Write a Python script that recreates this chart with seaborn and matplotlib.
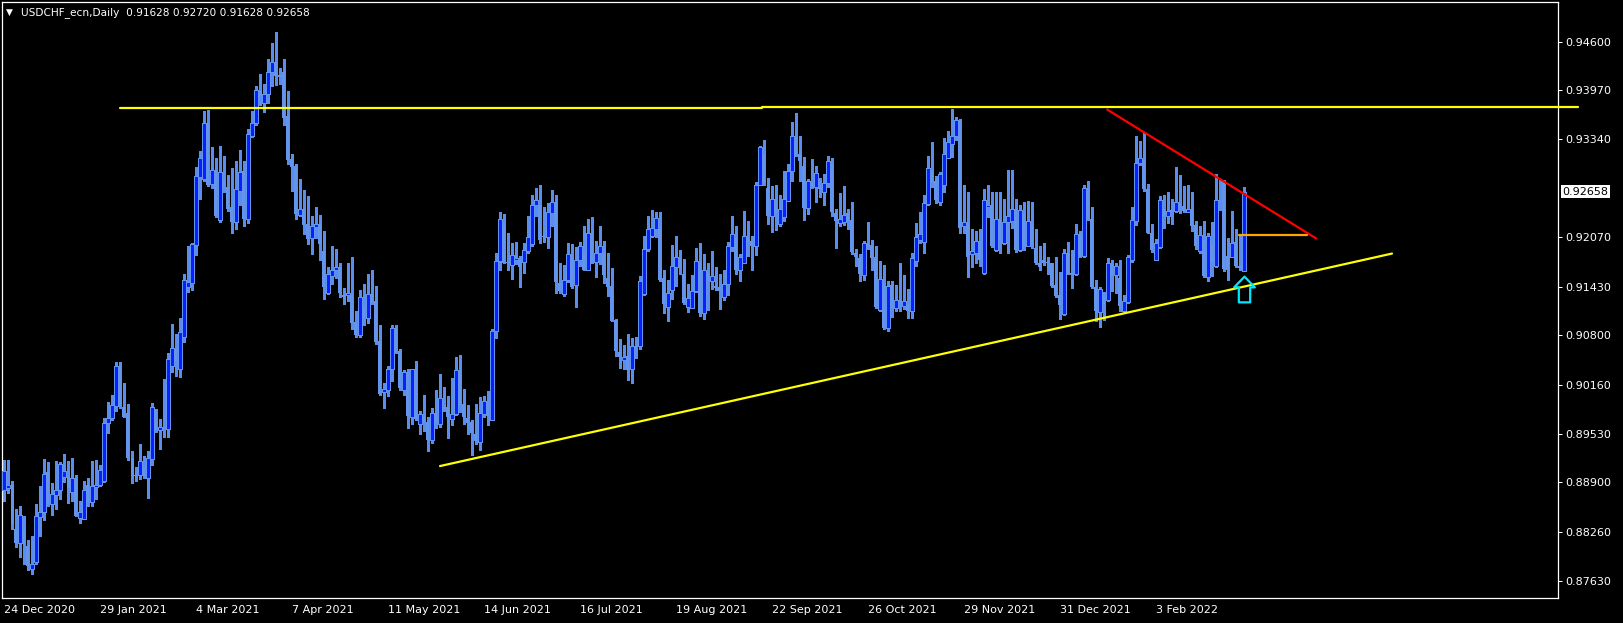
import numpy as np
import matplotlib
matplotlib.use("Agg")
import matplotlib.pyplot as plt
from matplotlib.path import Path
from matplotlib.transforms import offset_copy
import seaborn as sns

# Daily USDCHF bars, prices in 1/10000 (pips)
opens = [
    8880, 8882, 8887, 8829, 8811, 8828, 8807, 8778, 8787, 8845, 8851, 8903, 8862, 8874, 8880, 8897,
    8897, 8878, 8894, 8844, 8843, 8886, 8865, 8884, 8886, 8892, 8967, 8973, 8989, 9040, 8988, 8979,
    8922, 8900, 8900, 8908, 8895, 8920, 8983, 8957, 8960, 8959, 9040, 9063, 9037, 9078, 9142, 9148,
    9197, 9285, 9282, 9355, 9276, 9294, 9229, 9278, 9272, 9246, 9226, 9267, 9292, 9231, 9338, 9355,
    9396, 9381, 9392, 9421, 9433, 9415, 9420, 9364, 9308, 9299, 9236, 9243, 9224, 9206, 9220, 9224,
    9189, 9135, 9157, 9164, 9168, 9132, 9132, 9132, 9097, 9080, 9116, 9102, 9134, 9124, 9073, 9007,
    9010, 9036, 9090, 9060, 9010, 9033, 8975, 9036, 8966, 8974, 8968, 8945, 8979, 8965, 8987, 8987,
    8972, 8978, 9034, 8991, 8973, 8968, 8952, 8942, 8978, 8995, 8971, 9086, 9176, 9221, 9175, 9171,
    9178, 9178, 9175, 9189, 9198, 9249, 9248, 9208, 9207, 9238, 9253, 9148, 9133, 9151, 9184, 9145,
    9178, 9185, 9165, 9212, 9175, 9186, 9186, 9154, 9144, 9100, 9058, 9048, 9053, 9036, 9066, 9066,
    9134, 9192, 9209, 9218, 9218, 9154, 9117, 9139, 9169, 9180, 9159, 9117, 9116, 9137, 9174, 9109,
    9162, 9150, 9144, 9143, 9129, 9147, 9194, 9206, 9165, 9174, 9206, 9202, 9196, 9275, 9313, 9270,
    9235, 9257, 9224, 9233, 9254, 9292, 9337, 9315, 9299, 9245, 9277, 9272, 9270, 9265, 9277, 9302,
    9238, 9225, 9227, 9238, 9229, 9186, 9180, 9158, 9198, 9197, 9181, 9113, 9147, 9089, 9145, 9116,
    9126, 9118, 9121, 9112, 9176, 9203, 9201, 9250, 9291, 9280, 9253, 9275, 9310, 9327, 9338, 9357,
    9222, 9227, 9185, 9186, 9202, 9161, 9246, 9248, 9190, 9231, 9200, 9226, 9228, 9243, 9190, 9237,
    9196, 9225, 9193, 9174, 9178, 9175, 9173, 9145, 9132, 9107, 9187, 9159, 9159, 9211, 9183, 9271,
    9230, 9142, 9110, 9130, 9126, 9172, 9158, 9154, 9112, 9123, 9178, 9228, 9303, 9307, 9269, 9213,
    9177, 9194, 9243, 9235, 9242, 9241, 9251, 9247, 9240, 9242, 9223, 9189, 9203, 9155, 9197, 9170,
    9255, 9279, 9183, 9182, 9201, 9169, 9162.8,
]
highs = [
    8919, 8919, 8892, 8855, 8860, 8846, 8816, 8821, 8862, 8885, 8920, 8916, 8889, 8917, 8916, 8927,
    8917, 8921, 8900, 8866, 8892, 8896, 8917, 8919, 8912, 8973, 8994, 9003, 9045, 9045, 9019, 8991,
    8931, 8910, 8940, 8924, 8930, 8992, 8985, 8972, 9024, 9057, 9095, 9082, 9102, 9159, 9195, 9200,
    9298, 9318, 9370, 9372, 9323, 9310, 9325, 9312, 9287, 9296, 9305, 9320, 9305, 9347, 9370, 9402,
    9418, 9405, 9438, 9458, 9472, 9426, 9438, 9396, 9315, 9301, 9282, 9268, 9260, 9234, 9246, 9236,
    9215, 9169, 9196, 9192, 9173, 9141, 9173, 9181, 9112, 9139, 9147, 9160, 9164, 9144, 9093, 9019,
    9040, 9093, 9093, 9063, 9035, 9036, 9037, 9047, 8982, 9003, 8974, 8986, 9009, 9030, 9013, 9001,
    9025, 9052, 9055, 9011, 8990, 8971, 8991, 9000, 9002, 9008, 9088, 9187, 9239, 9237, 9212, 9199,
    9201, 9183, 9200, 9234, 9261, 9271, 9274, 9246, 9251, 9268, 9262, 9174, 9171, 9200, 9198, 9194,
    9201, 9221, 9231, 9233, 9202, 9221, 9202, 9186, 9167, 9101, 9075, 9067, 9082, 9077, 9078, 9157,
    9208, 9234, 9242, 9240, 9240, 9164, 9152, 9197, 9208, 9190, 9179, 9146, 9158, 9193, 9199, 9185,
    9173, 9189, 9169, 9159, 9164, 9201, 9234, 9222, 9185, 9241, 9228, 9208, 9278, 9325, 9333, 9284,
    9273, 9274, 9261, 9292, 9302, 9356, 9367, 9338, 9311, 9282, 9308, 9299, 9283, 9289, 9312, 9309,
    9244, 9264, 9273, 9244, 9252, 9192, 9185, 9202, 9227, 9203, 9195, 9176, 9171, 9150, 9150, 9145,
    9174, 9158, 9140, 9187, 9225, 9239, 9262, 9312, 9330, 9286, 9291, 9335, 9344, 9373, 9363, 9360,
    9274, 9266, 9217, 9215, 9218, 9269, 9275, 9265, 9265, 9266, 9256, 9294, 9294, 9256, 9248, 9252,
    9254, 9253, 9218, 9196, 9199, 9182, 9174, 9182, 9162, 9192, 9201, 9190, 9224, 9215, 9274, 9279,
    9246, 9152, 9143, 9136, 9180, 9178, 9174, 9177, 9132, 9184, 9246, 9338, 9331, 9342, 9276, 9224,
    9205, 9260, 9262, 9265, 9256, 9298, 9287, 9273, 9274, 9265, 9228, 9221, 9228, 9213, 9226, 9289,
    9281, 9281, 9206, 9241, 9218, 9210, 9272.0,
]
lows = [
    8866, 8876, 8829, 8806, 8794, 8785, 8776, 8771, 8785, 8821, 8841, 8860, 8848, 8855, 8869, 8891,
    8863, 8866, 8846, 8837, 8842, 8859, 8859, 8869, 8885, 8891, 8954, 8970, 8982, 8986, 8974, 8919,
    8889, 8892, 8894, 8895, 8870, 8913, 8955, 8933, 8948, 8948, 9033, 9028, 9026, 9071, 9136, 9139,
    9184, 9257, 9279, 9273, 9271, 9233, 9227, 9266, 9241, 9213, 9217, 9249, 9222, 9225, 9336, 9352,
    9378, 9369, 9380, 9403, 9404, 9405, 9352, 9302, 9267, 9230, 9235, 9211, 9198, 9185, 9206, 9177,
    9127, 9134, 9146, 9154, 9129, 9121, 9124, 9088, 9078, 9078, 9093, 9096, 9120, 9069, 9003, 8986,
    9001, 9021, 9057, 9010, 9003, 8960, 8966, 8971, 8953, 8956, 8930, 8941, 8960, 8962, 8982, 8947,
    8964, 8977, 8981, 8966, 8952, 8925, 8940, 8932, 8975, 8964, 8971, 9076, 9164, 9173, 9165, 9153,
    9172, 9142, 9161, 9187, 9196, 9235, 9200, 9201, 9193, 9222, 9135, 9135, 9131, 9149, 9141, 9117,
    9170, 9164, 9164, 9174, 9155, 9172, 9148, 9131, 9098, 9053, 9038, 9036, 9022, 9018, 9051, 9063,
    9132, 9189, 9207, 9207, 9150, 9109, 9099, 9127, 9144, 9159, 9121, 9110, 9115, 9136, 9105, 9101,
    9113, 9140, 9139, 9114, 9126, 9132, 9189, 9159, 9150, 9173, 9183, 9164, 9184, 9274, 9275, 9224,
    9214, 9216, 9222, 9228, 9254, 9279, 9312, 9279, 9229, 9237, 9270, 9252, 9259, 9249, 9272, 9235,
    9193, 9221, 9223, 9218, 9185, 9170, 9150, 9152, 9192, 9164, 9115, 9111, 9088, 9086, 9104, 9111,
    9111, 9114, 9102, 9103, 9170, 9200, 9187, 9249, 9272, 9251, 9248, 9266, 9309, 9311, 9333, 9212,
    9213, 9156, 9169, 9173, 9170, 9159, 9233, 9194, 9189, 9186, 9198, 9186, 9219, 9188, 9189, 9190,
    9195, 9193, 9172, 9165, 9171, 9159, 9143, 9130, 9101, 9106, 9159, 9141, 9158, 9182, 9182, 9229,
    9141, 9098, 9091, 9100, 9124, 9137, 9135, 9111, 9109, 9122, 9175, 9223, 9300, 9267, 9212, 9188,
    9177, 9193, 9219, 9225, 9224, 9239, 9238, 9239, 9239, 9215, 9192, 9187, 9156, 9150, 9157, 9168,
    9242, 9163, 9151, 9181, 9168, 9164, 9162.8,
]
closes = [
    8905, 8886, 8836, 8811, 8848, 8810, 8782, 8784, 8846, 8852, 8901, 8862, 8875, 8880, 8914, 8904,
    8882, 8895, 8847, 8851, 8880, 8864, 8885, 8886, 8906, 8967, 8973, 8990, 9041, 8989, 8975, 8921,
    8898, 8898, 8918, 8898, 8921, 8987, 8957, 8962, 8959, 9050, 9064, 9046, 9085, 9151, 9149, 9198,
    9286, 9309, 9355, 9275, 9294, 9235, 9291, 9273, 9244, 9226, 9269, 9291, 9231, 9340, 9355, 9397,
    9390, 9392, 9421, 9433, 9415, 9417, 9361, 9307, 9298, 9237, 9244, 9223, 9205, 9221, 9224, 9198,
    9143, 9159, 9164, 9168, 9135, 9130, 9135, 9096, 9081, 9130, 9103, 9134, 9123, 9072, 9004, 9011,
    9036, 9090, 9058, 9012, 9032, 8976, 9036, 8972, 8978, 8968, 8945, 8979, 8967, 8999, 8985, 8974,
    8978, 9035, 8990, 8975, 8967, 8954, 8943, 8979, 8995, 8976, 9086, 9176, 9231, 9174, 9173, 9184,
    9180, 9168, 9190, 9207, 9249, 9255, 9203, 9207, 9239, 9253, 9149, 9138, 9151, 9185, 9142, 9178,
    9196, 9165, 9213, 9175, 9187, 9196, 9158, 9143, 9099, 9060, 9052, 9052, 9035, 9066, 9065, 9150,
    9192, 9218, 9219, 9232, 9152, 9121, 9135, 9170, 9181, 9169, 9122, 9128, 9137, 9176, 9109, 9164,
    9150, 9157, 9141, 9138, 9147, 9196, 9211, 9165, 9181, 9209, 9201, 9196, 9275, 9323, 9277, 9235,
    9257, 9238, 9243, 9257, 9293, 9338, 9314, 9305, 9245, 9279, 9272, 9290, 9271, 9277, 9306, 9239,
    9228, 9231, 9236, 9228, 9188, 9181, 9159, 9199, 9196, 9180, 9117, 9153, 9090, 9144, 9116, 9126,
    9121, 9125, 9111, 9180, 9207, 9211, 9251, 9297, 9278, 9255, 9289, 9314, 9330, 9338, 9358, 9219,
    9226, 9182, 9189, 9202, 9177, 9255, 9249, 9195, 9231, 9205, 9226, 9234, 9243, 9190, 9242, 9195,
    9228, 9195, 9173, 9169, 9173, 9173, 9144, 9131, 9119, 9187, 9159, 9161, 9211, 9183, 9271, 9230,
    9142, 9111, 9140, 9121, 9174, 9158, 9170, 9118, 9124, 9181, 9229, 9303, 9309, 9269, 9213, 9190,
    9200, 9255, 9234, 9241, 9240, 9252, 9245, 9241, 9243, 9222, 9195, 9210, 9157, 9209, 9175, 9255,
    9253, 9166, 9165, 9200, 9170, 9170, 9265.8,
]

# bottom axis: bar index of each date label
date_bars = [0, 24, 48, 72, 96, 120, 144, 168, 192, 216, 240, 264, 288]
date_labels = ["24 Dec 2020", "29 Jan 2021", "4 Mar 2021", "7 Apr 2021", "11 May 2021",
               "14 Jun 2021", "16 Jul 2021", "19 Aug 2021", "22 Sep 2021", "26 Oct 2021",
               "29 Nov 2021", "31 Dec 2021", "3 Feb 2022"]
price_ticks = [0.94600, 0.93970, 0.93340, 0.92070, 0.91430, 0.90800,
               0.90160, 0.89530, 0.88900, 0.88260, 0.87630]

# hand drawn objects on the chart (bar index, price)
resist_a_x = [29, 189.4]
resist_a_y = [0.93736, 0.93736]
resist_b_x = [189.4, 393.5]
resist_b_y = [0.93749, 0.93749]
support_x = [109, 347]
support_y = [0.89110, 0.91858]
falling_x = [275.8, 328]
falling_y = [0.93720, 0.92055]
level_x = [308.8, 325.8]
level_y = [0.92098, 0.92098]

sns.set_theme(style="dark", rc={
    "axes.facecolor": "black", "figure.facecolor": "black",
    "axes.edgecolor": "white", "axes.grid": False,
    "xtick.color": "white", "ytick.color": "white", "text.color": "white",
})
plt.rcParams["font.family"] = ["DejaVu Sans"]

W, H = 1623, 623
fig = plt.figure(figsize=(W / 100, H / 100), dpi=100)
ax = fig.add_axes([2 / W, 25 / H, 1556 / W, 596 / H])

o = np.array(opens) / 1e4
h = np.array(highs) / 1e4
l = np.array(lows) / 1e4
c = np.array(closes) / 1e4
x = np.arange(len(o))
up = c >= o
body_lo = np.minimum(o, c)
body_h = np.maximum(np.abs(c - o), 0.00013)

ax.vlines(x, l, h, color="#5b8def", linewidth=0.75, zorder=2, antialiased=False)
ax.bar(x[~up], body_h[~up], bottom=body_lo[~up], width=0.75, color="#6495ed",
       linewidth=0, zorder=3, antialiased=False)
ax.bar(x[up], body_h[up], bottom=body_lo[up], width=0.8, color="#0a1eff",
       edgecolor="#6495ed", linewidth=0.5, zorder=3, antialiased=False)

for xs, ys, col in [(resist_a_x, resist_a_y, "#ffff00"), (support_x, support_y, "#ffff00"),
                    (falling_x, falling_y, "#ff0000"), (level_x, level_y, "#ffa500")]:
    sns.lineplot(x=xs, y=ys, ax=ax, color=col, linewidth=1.6, estimator=None,
                 sort=False, legend=False, zorder=4)
# this one runs on past the right edge of the plot
sns.lineplot(x=resist_b_x, y=resist_b_y, ax=ax, color="#ffff00", linewidth=1.6,
             estimator=None, sort=False, legend=False, zorder=4, clip_on=False)

# hollow up arrow under the last bar
arrow = Path([(0, 38.5), (31, 6.5), (17, 6.5), (17, -38.5), (-17, -38.5),
              (-17, 6.5), (-31, 6.5), (0, 38.5)],
             [Path.MOVETO] + [Path.LINETO] * 6 + [Path.CLOSEPOLY])
ax.plot([x[-1]], [l[-1]], marker=arrow, markersize=18.5, markerfacecolor="none",
        markeredgecolor="#00e5ff", markeredgewidth=1.6, linestyle="none", zorder=5,
        transform=offset_copy(ax.transData, fig=fig, y=-17.5, units="dots"))

ax.set_xlim(-0.5, 388.5)
ax.set_ylim(0.87404, 0.95111)
ax.set_xlabel("")
ax.set_ylabel("")
ax.yaxis.tick_right()
ax.set_yticks(price_ticks, [f"{v:.5f}" for v in price_ticks])
ax.set_xticks(date_bars, date_labels)
for lab in ax.get_xticklabels():
    lab.set_horizontalalignment("left")
ax.tick_params(axis="both", colors="white", length=3, width=0.72, labelsize=8,
               pad=2, direction="out")
for sp in ax.spines.values():
    sp.set_visible(True)
    sp.set_color("white")
    sp.set_linewidth(0.9)

# current price tag on the price scale
ax.annotate(f"{c[-1]:.5f}", xy=(1, c[-1]), xycoords=ax.get_yaxis_transform(),
            xytext=(3.2, 0), textcoords="offset points", ha="left", va="center",
            fontsize=8, color="black",
            bbox=dict(boxstyle="square,pad=0.15", fc="white", ec="none"))

fig.text(6 / W, 1 - 12.7 / H, "\u25bc", fontsize=6.5, color="white", va="center")
fig.text(21 / W, 1 - 12.7 / H,
         f"USDCHF_ecn,Daily  {o[-1]:.5f} {h[-1]:.5f} {l[-1]:.5f} {c[-1]:.5f}",
         fontsize=7.6, color="white", va="center")

fig.savefig("out.png", dpi=100, facecolor="black")
